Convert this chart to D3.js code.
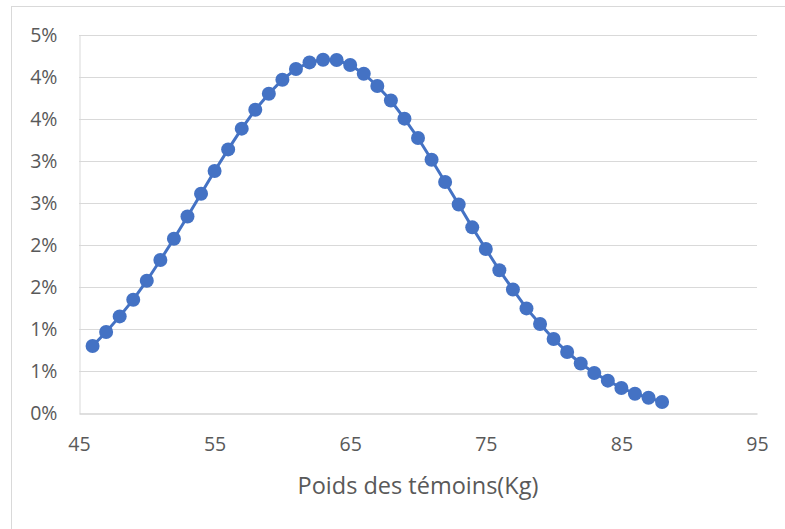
<!DOCTYPE html>
<html><head><meta charset="utf-8">
<script src="https://cdn.jsdelivr.net/npm/d3@7"></script>
<style>body{margin:0;background:#fff}svg{display:block}</style>
</head><body>
<script>
const weights = [46,47,48,49,50,51,52,53,54,55,56,57,58,59,60,61,62,63,64,65,66,67,68,69,70,71,72,73,74,75,76,77,78,79,80,81,82,83,84,85,86,87,88];
const percents = [0.798,0.964,1.150,1.349,1.575,1.821,2.075,2.340,2.611,2.881,3.138,3.385,3.611,3.801,3.968,4.095,4.174,4.206,4.202,4.143,4.039,3.893,3.720,3.504,3.274,3.015,2.750,2.483,2.210,1.952,1.700,1.471,1.245,1.060,0.881,0.726,0.590,0.476,0.385,0.298,0.230,0.182,0.131];
const yTicks = [0,0.5,1,1.5,2,2.5,3,3.5,4,4.5];
const yTickLabels = ["0%","1%","1%","2%","2%","3%","3%","4%","4%","5%"];
const xTicks = [45,55,65,75,85,95];
const xTitle = "Poids des témoins(Kg)";

const W=785,H=529;
const svg=d3.select("body").append("svg").attr("width",W).attr("height",H);
const font="'Open Sans', 'Noto Sans', sans-serif";
svg.append("rect").attr("x",11.5).attr("y",6.5).attr("width",W).attr("height",H).attr("fill","#fff").attr("stroke","#d9d9d9");

const x=d3.scaleLinear().domain([45,95]).range([79,757]);
const y=d3.scaleLinear().domain([0,4.5]).range([413,35]);

// gridlines
svg.append("g").selectAll("line").data(yTicks.slice(1)).join("line")
  .attr("x1",x(45)).attr("x2",x(95)).attr("y1",d=>Math.round(y(d))+0.5).attr("y2",d=>Math.round(y(d))+0.5)
  .attr("stroke","#d9d9d9").attr("stroke-width",1);

// y axis
const yAxis=svg.append("g").attr("transform",`translate(${x(45)+0.5},0)`)
  .call(d3.axisLeft(y).tickValues(yTicks).tickFormat((d,i)=>yTickLabels[i]).tickSize(0).tickPadding(22));
yAxis.select(".domain").attr("stroke","#d9d9d9");
yAxis.selectAll("text").attr("fill","#595959").style("font-family",font).style("font-size","19.5px");

// x axis
const xAxis=svg.append("g").attr("transform",`translate(0,${Math.round(y(0))+0.5})`)
  .call(d3.axisBottom(x).tickValues(xTicks).tickFormat(d3.format("d")).tickSize(0).tickPadding(24));
xAxis.select(".domain").attr("stroke","#bfbfbf");
xAxis.selectAll("text").attr("fill","#595959").style("font-family",font).style("font-size","19.5px");

svg.append("text").attr("x",(x(45)+x(95))/2).attr("y",494).attr("text-anchor","middle")
  .attr("fill","#595959").style("font-family",font).style("font-size","23.5px").text(xTitle);

const data=weights.map((w,i)=>({w,p:percents[i]}));
svg.append("path").datum(data).attr("fill","none").attr("stroke","#4472C4").attr("stroke-width",3)
  .attr("d",d3.line().x(d=>x(d.w)).y(d=>y(d.p)));
svg.append("g").selectAll("circle").data(data).join("circle")
  .attr("cx",d=>x(d.w)).attr("cy",d=>y(d.p)).attr("r",7).attr("fill","#4472C4");
</script>
</body></html>
